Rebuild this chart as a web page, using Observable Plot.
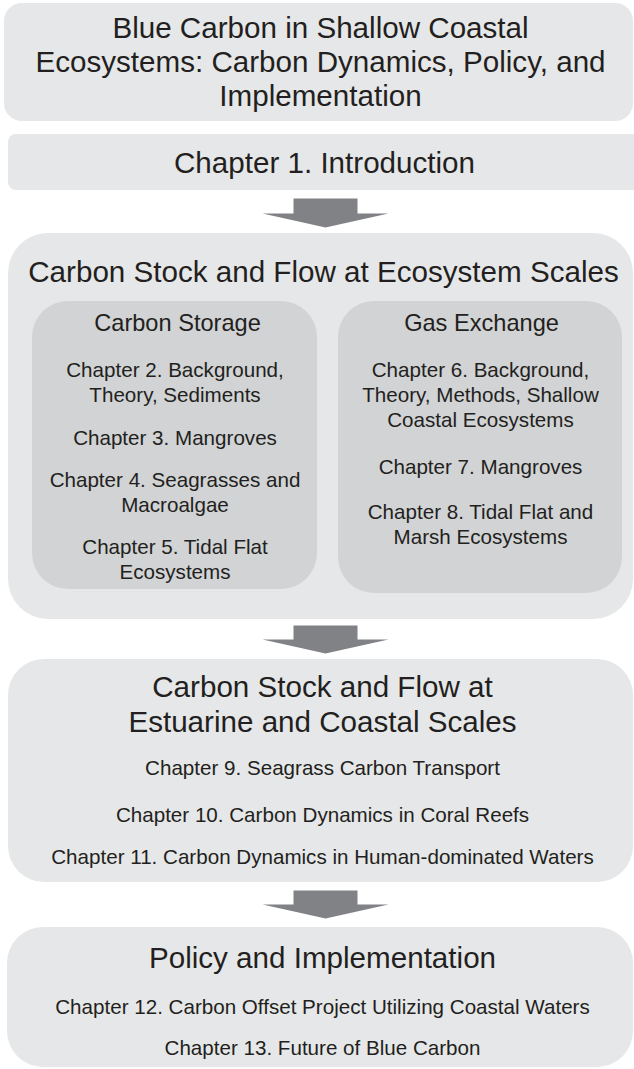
<!DOCTYPE html>
<html>
<head>
<meta charset="utf-8">
<script src="https://cdn.jsdelivr.net/npm/d3@7"></script>
<script src="https://cdn.jsdelivr.net/npm/@observablehq/plot@0.6"></script>
<style>
  html, body { margin: 0; padding: 0; background: #ffffff; overflow: hidden; }
  #chart svg { display: block; }
</style>
</head>
<body>
<div id="chart"></div>
<script>
// ---------- Data: texts of the flowchart ----------
const titleLines = ["Blue Carbon in Shallow Coastal", "Ecosystems: Carbon Dynamics, Policy, and", "Implementation"];
const introLines = ["Chapter 1. Introduction"];
const ecoHeading = ["Carbon Stock and Flow at Ecosystem Scales"];
const storageHeading = ["Carbon Storage"];
const storageLines = ["Chapter 2. Background,", "Theory, Sediments", "Chapter 3. Mangroves", "Chapter 4. Seagrasses and", "Macroalgae", "Chapter 5. Tidal Flat", "Ecosystems"];
const gasHeading = ["Gas Exchange"];
const gasLines = ["Chapter 6. Background,", "Theory, Methods, Shallow", "Coastal Ecosystems", "Chapter 7. Mangroves", "Chapter 8. Tidal Flat and", "Marsh Ecosystems"];
const estuaryHeading = ["Carbon Stock and Flow at", "Estuarine and Coastal Scales"];
const estuaryLines = ["Chapter 9. Seagrass Carbon Transport", "Chapter 10. Carbon Dynamics in Coral Reefs", "Chapter 11. Carbon Dynamics in Human-dominated Waters"];
const policyHeading = ["Policy and Implementation"];
const policyLines = ["Chapter 12. Carbon Offset Project Utilizing Coastal Waters", "Chapter 13. Future of Blue Carbon"];

// ---------- Layout (pixel units of the 634 x 1069 canvas) ----------
const W = 634, H = 1069;
const outerBoxes = [
  {name: "title",   x1: 4, y1: 3,   x2: 633, y2: 121, r: 18},
  {name: "eco",     x1: 8, y1: 233, x2: 633, y2: 619, r: 40},
  {name: "estuary", x1: 8, y1: 659, x2: 633, y2: 882, r: 36},
  {name: "policy",  x1: 7, y1: 927, x2: 633, y2: 1067, r: 36}
];
const introBox = [{name: "intro", x1: 8, y1: 134, x2: 660, y2: 190, r: 8}];
const innerBoxes = [
  {name: "storage", x1: 32,  y1: 301, x2: 317, y2: 589, r: 36},
  {name: "gas",     x1: 338, y1: 301, x2: 622, y2: 593, r: 36}
];
const arrows = [
  {top: 198, neck: 213, tip: 227},
  {top: 625, neck: 639, tip: 653},
  {top: 890, neck: 904, tip: 918}
];
const arrowX = 325, shaftHalf = 32, headHalf = 63;

// text rows: [lines, centre x, y of each line, size]
const textGroups = [
  {lines: titleLines,     x: 320,   ys: [28, 62, 96],                       size: 29.6},
  {lines: introLines,     x: 324,   ys: [163],                              size: 29.6},
  {lines: ecoHeading,     x: 323,   ys: [272],                              size: 29.6},
  {lines: storageHeading, x: 177,   ys: [323],                              size: 23.6},
  {lines: storageLines,   x: 174.5, ys: [370, 395, 438, 480, 505, 547, 572], size: 20.6},
  {lines: gasHeading,     x: 481,   ys: [323],                              size: 23.6},
  {lines: gasLines,       x: 480,   ys: [370, 395, 420, 467, 512, 537],     size: 20.6},
  {lines: estuaryHeading, x: 322,   ys: [687, 722],                         size: 29.6},
  {lines: estuaryLines,   x: 322,   ys: [768, 815, 857],                    size: 20.6},
  {lines: policyHeading,  x: 322,   ys: [958],                              size: 29.6},
  {lines: policyLines,    x: 322,   ys: [1007, 1048],                       size: 20.6}
];

// ---------- Derived tables ----------
const textRows = textGroups.flatMap(g => g.lines.map((t, i) => ({text: t, x: g.x, y: g.ys[i], size: g.size})));
const arrowPts = arrows.flatMap((a, k) => [
  {k, x: arrowX - shaftHalf, y: a.top},
  {k, x: arrowX + shaftHalf, y: a.top},
  {k, x: arrowX + shaftHalf, y: a.neck},
  {k, x: arrowX + headHalf,  y: a.neck},
  {k, x: arrowX,             y: a.tip},
  {k, x: arrowX - headHalf,  y: a.neck},
  {k, x: arrowX - shaftHalf, y: a.neck},
  {k, x: arrowX - shaftHalf, y: a.top}
]);

const LIGHT = "#e6e7e8", MID = "#d1d3d4", ARROW = "#808285", INK = "#231f20";
const FONT = "'Liberation Sans', Arial, Helvetica, sans-serif";

const textMarks = [29.6, 23.6, 20.6].map(s => Plot.text(textRows.filter(d => d.size === s), {
  x: "x", y: "y", text: "text", fontSize: s, fill: INK, fontFamily: FONT,
  textAnchor: "middle", lineAnchor: "middle"
}));

const chart = Plot.plot({
  width: W, height: H,
  margin: 0,
  x: {domain: [0, W], range: [0, W], axis: null},
  y: {domain: [0, H], range: [0, H], axis: null},
  style: {background: "#ffffff", fontFamily: FONT},
  marks: [
    ...outerBoxes.map(b => Plot.rect([b], {x1: "x1", x2: "x2", y1: "y1", y2: "y2", fill: LIGHT, rx: b.r, ry: b.r})),
    Plot.rect(introBox, {x1: "x1", x2: "x2", y1: "y1", y2: "y2", fill: LIGHT, rx: 8, ry: 8}),
    Plot.rect(innerBoxes, {x1: "x1", x2: "x2", y1: "y1", y2: "y2", fill: MID, rx: 36, ry: 36}),
    Plot.line(arrowPts, {x: "x", y: "y", z: "k", fill: ARROW, stroke: "none", curve: "linear"}),
    ...textMarks
  ]
});
document.getElementById("chart").appendChild(chart);
</script>
</body>
</html>
